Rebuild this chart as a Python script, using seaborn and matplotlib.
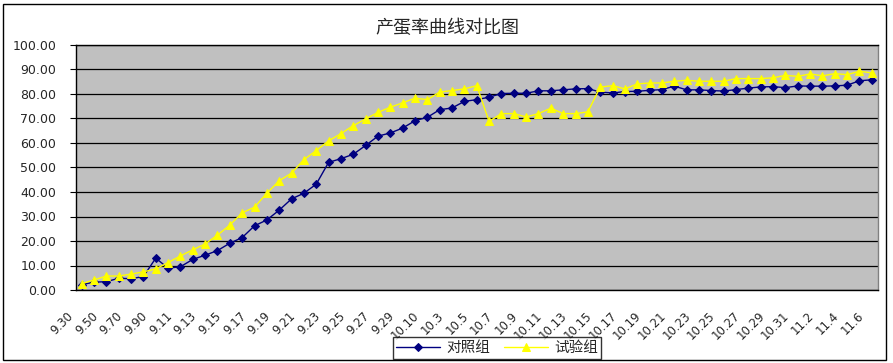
import numpy as np
import pandas as pd
import matplotlib
matplotlib.use("Agg")
import matplotlib.pyplot as plt
import matplotlib.transforms as mtransforms
from matplotlib.patches import Rectangle
import seaborn as sns

# ---------------- data ----------------
dates = ["9.30", "9.40", "9.50", "9.60", "9.70", "9.80", "9.90", "9.10", "9.11", "9.12",
         "9.13", "9.14", "9.15", "9.16", "9.17", "9.18", "9.19", "9.20", "9.21", "9.22",
         "9.23", "9.24", "9.25", "9.26", "9.27", "9.28", "9.29", "9.30", "10.10", "10.2",
         "10.3", "10.4", "10.5", "10.6", "10.7", "10.8", "10.9", "10.10", "10.11", "10.12",
         "10.13", "10.14", "10.15", "10.16", "10.17", "10.18", "10.19", "10.20", "10.21", "10.22",
         "10.23", "10.24", "10.25", "10.26", "10.27", "10.28", "10.29", "10.30", "10.31", "11.1",
         "11.2", "11.3", "11.4", "11.5", "11.6"]

control = [2.2, 3.2, 3.4, 4.8, 4.6, 5.5, 13.0, 8.9, 9.5, 12.5,
           14.2, 16.1, 19.1, 21.4, 26.2, 28.6, 32.6, 37.2, 39.5, 43.2,
           52.1, 53.6, 55.4, 59.0, 62.8, 64.1, 66.1, 69.1, 70.5, 73.6,
           74.3, 77.0, 77.7, 78.7, 80.2, 80.3, 80.3, 81.3, 81.3, 81.7,
           82.1, 82.2, 80.8, 80.4, 81.0, 81.1, 81.5, 81.8, 83.2, 81.7,
           81.7, 81.4, 81.2, 81.8, 82.4, 82.9, 83.0, 82.6, 83.3, 83.2,
           83.2, 83.3, 83.6, 85.4, 85.8]

trial = [2.6, 4.1, 5.7, 5.7, 6.5, 7.4, 8.6, 11.2, 13.9, 16.4,
         18.8, 22.4, 26.5, 31.5, 33.8, 39.5, 44.6, 47.7, 53.2, 56.9,
         60.9, 63.8, 67.1, 69.8, 72.5, 74.6, 76.4, 78.3, 77.7, 80.8,
         81.4, 82.1, 83.4, 68.8, 72.0, 72.0, 70.6, 72.0, 74.2, 72.0,
         72.0, 72.7, 82.8, 83.4, 82.1, 84.1, 84.5, 84.5, 85.2, 85.6,
         85.2, 85.2, 85.2, 86.3, 86.3, 86.3, 86.6, 87.6, 87.2, 88.2,
         87.4, 88.3, 87.9, 89.3, 88.6]

series_names = ["对照组", "试验组"]
title = "产蛋率曲线对比图"
yticks = [0, 10, 20, 30, 40, 50, 60, 70, 80, 90, 100]

# ---------------- plotting ----------------
sns.set_style("white")
plt.rcParams["font.family"] = ["Noto Sans CJK SC", "DejaVu Sans"]

W, H = 893, 363
fig = plt.figure(figsize=(W / 100, H / 100), dpi=100)
ax = fig.add_axes([75.5 / W, 1 - 290 / H, (878 - 75.5) / W, (290 - 45) / H])
ax.set_facecolor("#C0C0C0")

idx = np.arange(len(dates))
df = pd.DataFrame({"idx": np.concatenate([idx, idx]),
                   "val": control + trial,
                   "grp": [series_names[0]] * len(idx) + [series_names[1]] * len(idx)})

sns.lineplot(data=df[df.grp == series_names[0]], x="idx", y="val", ax=ax,
             color="#000080", lw=1.0, marker="D", markersize=4.3,
             markeredgecolor="#000080", label=series_names[0], zorder=3)
sns.lineplot(data=df[df.grp == series_names[1]], x="idx", y="val", ax=ax,
             color="#FFFF00", lw=1.0, marker="^", markersize=5.5,
             markeredgecolor="#FFFF00", label=series_names[1], zorder=4)

ax.set_xlim(-0.5, len(dates) - 0.5)
ax.set_ylim(0, 100)
ax.set_yticks(yticks)
ax.set_yticklabels([f"{v:.2f}" for v in yticks], fontsize=9, family="DejaVu Sans")
ax.yaxis.grid(True, color="black", lw=0.9)
ax.xaxis.grid(False)
ax.set_axisbelow(True)

ax.set_xticks(idx[::2])
ax.set_xticklabels(dates[::2], fontsize=8.5, rotation=45, ha="right", va="top",
                   rotation_mode="anchor", family="DejaVu Sans")
ax.set_xticks(np.arange(-0.5, len(dates), 1), minor=True)
ax.tick_params(axis="x", which="major", length=0, pad=14)
ax.tick_params(axis="x", which="minor", length=4, direction="in", color="black", width=0.8)
ax.tick_params(axis="y", which="major", length=4, direction="out", color="black",
               width=0.8, pad=10, left=True)
offset = mtransforms.ScaledTranslation(-15 / 100, 0, fig.dpi_scale_trans)
for lbl in ax.get_xticklabels():
    lbl.set_transform(lbl.get_transform() + offset)

ax.set_xlabel("")
ax.set_ylabel("")
for s in ["left", "bottom", "top"]:
    ax.spines[s].set_color("black")
    ax.spines[s].set_linewidth(1.0)
ax.spines["right"].set_color("#808080")
ax.spines["right"].set_linewidth(1.0)

ax.get_legend().remove()
handles, labels = ax.get_legend_handles_labels()
leg = fig.legend(handles, labels, loc="center", bbox_to_anchor=(497 / W, 1 - 348 / H),
                 ncol=2, frameon=True, fancybox=False, edgecolor="black",
                 fontsize=10.5, handlelength=3.0, handletextpad=0.4, columnspacing=1.0,
                 borderpad=0.25)
leg.get_frame().set_linewidth(1.0)

fig.text(447 / W, 1 - 28 / H, title, ha="center", va="center", fontsize=13)

fig.patches.append(Rectangle((3 / W, 1 - 360 / H), 883 / W, 356 / H,
                             transform=fig.transFigure, fill=False,
                             edgecolor="black", lw=1.0, zorder=0))

fig.savefig("out.png", dpi=100)
